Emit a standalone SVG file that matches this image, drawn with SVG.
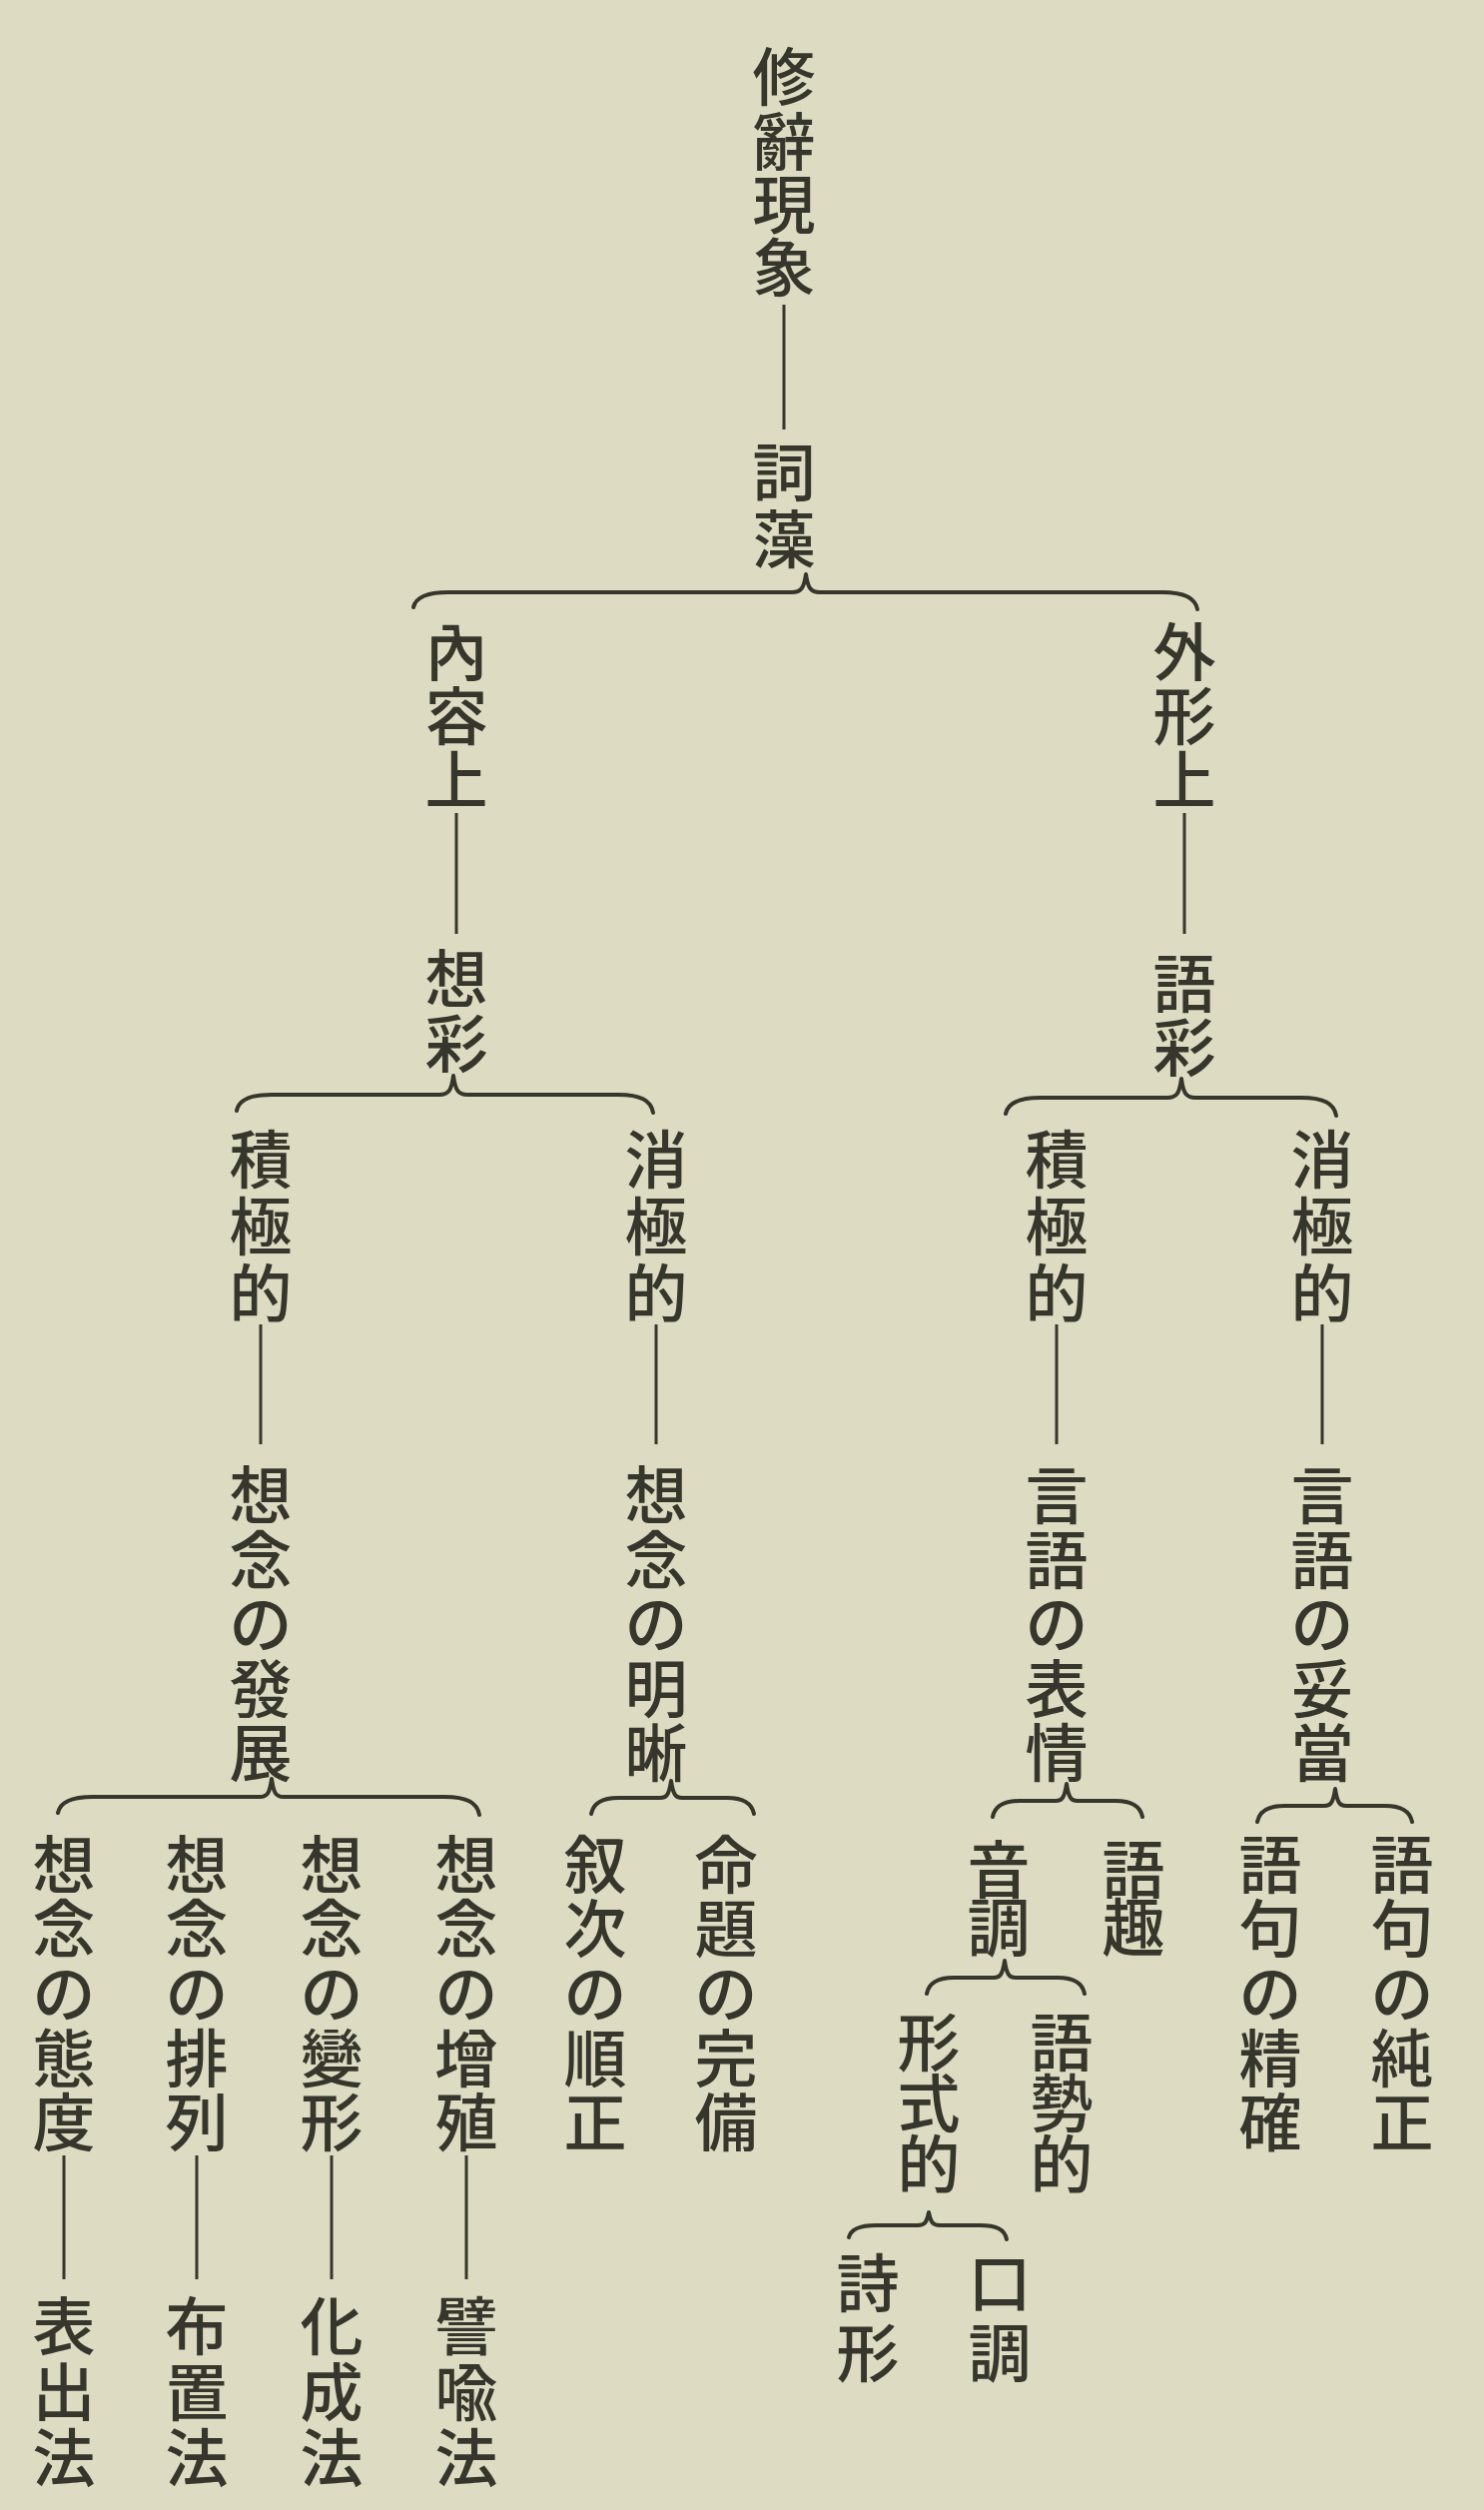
<svg xmlns="http://www.w3.org/2000/svg" width="1486" height="2513" viewBox="0 0 1486 2513">
<style>
.t{font-family:"Noto Sans CJK JP","Noto Sans CJK SC",sans-serif;font-size:63px;font-weight:500;fill:#36362c;text-anchor:middle;dominant-baseline:central}
.ln{stroke:#36362c;stroke-width:3;fill:none}
.br{stroke:#36362c;stroke-width:4;fill:none;stroke-linecap:round;stroke-linejoin:round}
</style>
<rect x="0" y="0" width="1486" height="2513" fill="#dddcc2"/>
<g id="connectors">
<line class="ln" x1="785" y1="305" x2="785" y2="430"/>
<path class="br" d="M414,608 C416,599 426,593 449,593 L793,593 C802,593 805,589 807,575 C809,589 812,593 821,593 L1164,593 C1187,593 1197,599 1199,610"/>
<line class="ln" x1="457" y1="814" x2="457" y2="935"/>
<line class="ln" x1="1186" y1="814" x2="1186" y2="935"/>
<path class="br" d="M237,1112 C239,1102 249,1096 272,1096 L440,1096 C449,1096 452,1092 454,1077 C456,1092 459,1096 468,1096 L619,1096 C642,1096 652,1102 654,1114"/>
<path class="br" d="M1007,1115 C1009,1105 1019,1099 1042,1099 L1169,1099 C1178,1099 1181,1095 1183,1080 C1185,1095 1188,1099 1197,1099 L1303,1099 C1326,1099 1336,1105 1338,1117"/>
<line class="ln" x1="261" y1="1326" x2="261" y2="1446"/>
<line class="ln" x1="657" y1="1326" x2="657" y2="1446"/>
<line class="ln" x1="1058" y1="1326" x2="1058" y2="1446"/>
<line class="ln" x1="1324" y1="1326" x2="1324" y2="1446"/>
<path class="br" d="M58,1815 C60,1805 70,1799 93,1799 L260,1799 C268,1799 270,1795 272,1781 C274,1795 276,1799 284,1799 L445,1799 C468,1799 478,1805 480,1817"/>
<path class="br" d="M592,1816 C594,1806 602,1800 619,1800 L661,1800 C668,1800 670,1796 672,1783 C674,1796 676,1800 683,1800 L728,1800 C745,1800 753,1806 755,1816"/>
<path class="br" d="M994,1819 C996,1809 1004,1803 1021,1803 L1057,1803 C1064,1803 1066,1799 1068,1786 C1070,1799 1072,1803 1079,1803 L1117,1803 C1134,1803 1142,1809 1144,1819"/>
<path class="br" d="M1259,1824 C1261,1814 1269,1808 1286,1808 L1326,1808 C1333,1808 1335,1804 1337,1791 C1339,1804 1341,1808 1348,1808 L1387,1808 C1404,1808 1412,1814 1414,1824"/>
<path class="br" d="M928,1996 C930,1986 938,1980 955,1980 L995,1980 C1002,1980 1004,1976 1006,1963 C1008,1976 1010,1980 1017,1980 L1059,1980 C1076,1980 1084,1986 1086,1996"/>
<path class="br" d="M850,2240 C852,2232 860,2228 877,2228 L919,2228 C926,2228 928,2225 930,2215 C932,2225 934,2228 941,2228 L981,2228 C998,2228 1006,2232 1008,2242"/>
<line class="ln" x1="64" y1="2158" x2="64" y2="2282"/>
<line class="ln" x1="197" y1="2158" x2="197" y2="2282"/>
<line class="ln" x1="332" y1="2158" x2="332" y2="2282"/>
<line class="ln" x1="467" y1="2158" x2="467" y2="2282"/>
</g>
<g id="n-shuji"><text class="t"><tspan x="785" y="72">修</tspan><tspan x="785" y="137">辭</tspan><tspan x="785" y="200">現</tspan><tspan x="785" y="263">象</tspan></text></g>
<g id="n-shiso"><text class="t"><tspan x="785" y="468">詞</tspan><tspan x="785" y="535">藻</tspan></text></g>
<g id="n-naiyo"><text class="t"><tspan x="457" y="648">內</tspan><tspan x="457" y="712">容</tspan><tspan x="457" y="776">上</tspan></text></g>
<g id="n-sosai"><text class="t"><tspan x="457" y="975">想</tspan><tspan x="457" y="1040">彩</tspan></text></g>
<g id="n-gaikei"><text class="t"><tspan x="1186" y="648">外</tspan><tspan x="1186" y="712">形</tspan><tspan x="1186" y="776">上</tspan></text></g>
<g id="n-gosai"><text class="t"><tspan x="1186" y="980">語</tspan><tspan x="1186" y="1044">彩</tspan></text></g>
<g id="n-sekkyoku1"><text class="t"><tspan x="261" y="1156">積</tspan><tspan x="261" y="1223">極</tspan><tspan x="261" y="1290">的</tspan></text></g>
<g id="n-hatten"><text class="t"><tspan x="261" y="1492">想</tspan><tspan x="261" y="1557">念</tspan><tspan x="261" y="1621">の</tspan><tspan x="261" y="1686">發</tspan><tspan x="261" y="1750">展</tspan></text></g>
<g id="n-shokyoku1"><text class="t"><tspan x="657" y="1156">消</tspan><tspan x="657" y="1223">極</tspan><tspan x="657" y="1290">的</tspan></text></g>
<g id="n-meiseki"><text class="t"><tspan x="657" y="1492">想</tspan><tspan x="657" y="1557">念</tspan><tspan x="657" y="1621">の</tspan><tspan x="657" y="1686">明</tspan><tspan x="657" y="1750">晰</tspan></text></g>
<g id="n-sekkyoku2"><text class="t"><tspan x="1058" y="1156">積</tspan><tspan x="1058" y="1223">極</tspan><tspan x="1058" y="1290">的</tspan></text></g>
<g id="n-hyojo"><text class="t"><tspan x="1058" y="1492">言</tspan><tspan x="1058" y="1557">語</tspan><tspan x="1058" y="1621">の</tspan><tspan x="1058" y="1686">表</tspan><tspan x="1058" y="1750">情</tspan></text></g>
<g id="n-shokyoku2"><text class="t"><tspan x="1324" y="1156">消</tspan><tspan x="1324" y="1223">極</tspan><tspan x="1324" y="1290">的</tspan></text></g>
<g id="n-dato"><text class="t"><tspan x="1324" y="1492">言</tspan><tspan x="1324" y="1557">語</tspan><tspan x="1324" y="1621">の</tspan><tspan x="1324" y="1686">妥</tspan><tspan x="1324" y="1750">當</tspan></text></g>
<g id="n-taido"><text class="t"><tspan x="64" y="1862">想</tspan><tspan x="64" y="1926">念</tspan><tspan x="64" y="1991">の</tspan><tspan x="64" y="2056">態</tspan><tspan x="64" y="2120">度</tspan></text></g>
<g id="n-hairetsu"><text class="t"><tspan x="197" y="1862">想</tspan><tspan x="197" y="1926">念</tspan><tspan x="197" y="1991">の</tspan><tspan x="197" y="2056">排</tspan><tspan x="197" y="2120">列</tspan></text></g>
<g id="n-henkei"><text class="t"><tspan x="332" y="1862">想</tspan><tspan x="332" y="1926">念</tspan><tspan x="332" y="1991">の</tspan><tspan x="332" y="2056">變</tspan><tspan x="332" y="2120">形</tspan></text></g>
<g id="n-zoshoku"><text class="t"><tspan x="467" y="1862">想</tspan><tspan x="467" y="1926">念</tspan><tspan x="467" y="1991">の</tspan><tspan x="467" y="2056">增</tspan><tspan x="467" y="2120">殖</tspan></text></g>
<g id="n-hyoshutsu"><text class="t"><tspan x="64" y="2324">表</tspan><tspan x="64" y="2390">出</tspan><tspan x="64" y="2456">法</tspan></text></g>
<g id="n-fuchi"><text class="t"><tspan x="197" y="2324">布</tspan><tspan x="197" y="2390">置</tspan><tspan x="197" y="2456">法</tspan></text></g>
<g id="n-kasei"><text class="t"><tspan x="332" y="2324">化</tspan><tspan x="332" y="2390">成</tspan><tspan x="332" y="2456">法</tspan></text></g>
<g id="n-hiyu"><text class="t"><tspan x="467" y="2324">譬</tspan><tspan x="467" y="2390">喩</tspan><tspan x="467" y="2456">法</tspan></text></g>
<g id="n-junsei"><text class="t"><tspan x="596" y="1862">叙</tspan><tspan x="596" y="1926">次</tspan><tspan x="596" y="1991">の</tspan><tspan x="596" y="2056">順</tspan><tspan x="596" y="2120">正</tspan></text></g>
<g id="n-kanbi"><text class="t"><tspan x="727" y="1862">命</tspan><tspan x="727" y="1926">題</tspan><tspan x="727" y="1991">の</tspan><tspan x="727" y="2056">完</tspan><tspan x="727" y="2120">備</tspan></text></g>
<g id="n-onchou"><text class="t"><tspan x="1000" y="1867">音</tspan><tspan x="1000" y="1925">調</tspan></text></g>
<g id="n-goshu"><text class="t"><tspan x="1135" y="1867">語</tspan><tspan x="1135" y="1925">趣</tspan></text></g>
<g id="n-seikaku"><text class="t"><tspan x="1272" y="1862">語</tspan><tspan x="1272" y="1926">句</tspan><tspan x="1272" y="1991">の</tspan><tspan x="1272" y="2056">精</tspan><tspan x="1272" y="2120">確</tspan></text></g>
<g id="n-junsei2"><text class="t"><tspan x="1404" y="1862">語</tspan><tspan x="1404" y="1926">句</tspan><tspan x="1404" y="1991">の</tspan><tspan x="1404" y="2056">純</tspan><tspan x="1404" y="2120">正</tspan></text></g>
<g id="n-keishiki"><text class="t"><tspan x="930" y="2040">形</tspan><tspan x="930" y="2101">式</tspan><tspan x="930" y="2162">的</tspan></text></g>
<g id="n-gosei"><text class="t"><tspan x="1063" y="2040">語</tspan><tspan x="1063" y="2101">勢</tspan><tspan x="1063" y="2162">的</tspan></text></g>
<g id="n-shikei"><text class="t"><tspan x="869" y="2281">詩</tspan><tspan x="869" y="2351">形</tspan></text></g>
<g id="n-kucho"><text class="t"><tspan x="1001" y="2281">口</tspan><tspan x="1001" y="2351">調</tspan></text></g>
</svg>
